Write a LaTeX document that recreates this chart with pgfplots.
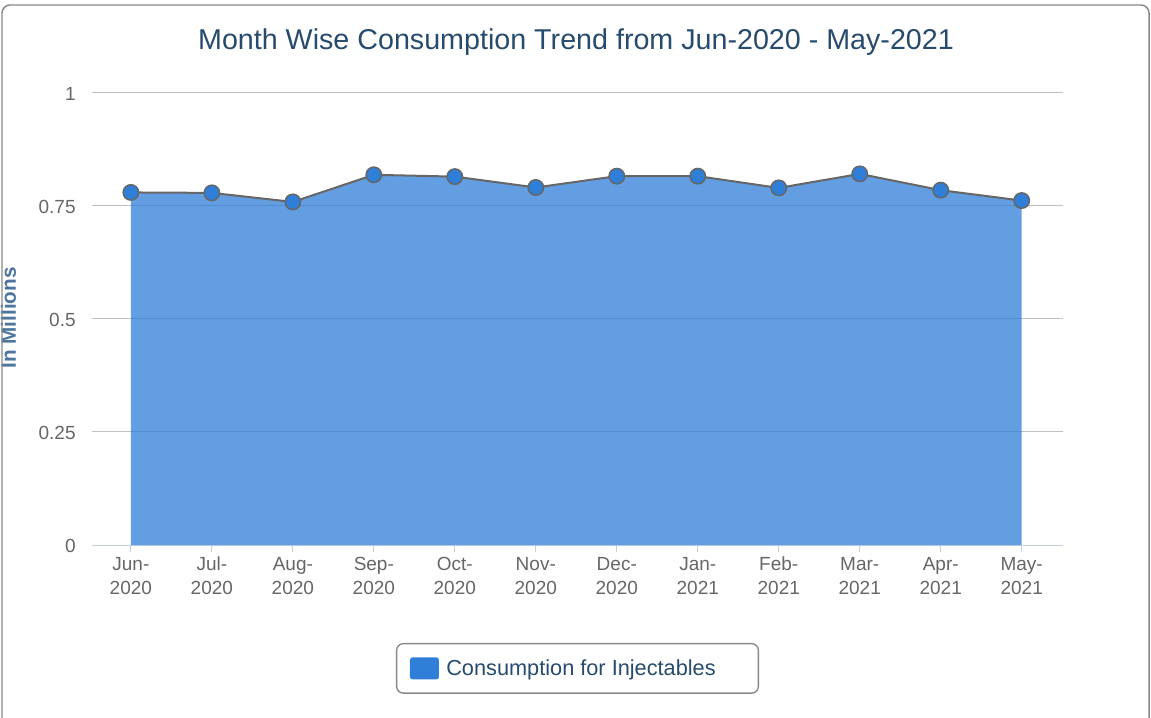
\documentclass[border=0pt]{standalone}
\usepackage{fontspec}
\setmainfont{Liberation Sans}
\usepackage{pgfplots}
\pgfplotsset{compat=1.18}
\usepackage{pgfplotstable}
\definecolor{series}{HTML}{2F7ED8}
\definecolor{titlec}{HTML}{274B6D}
\definecolor{ylabc}{HTML}{4D759E}
\definecolor{tickc}{HTML}{666666}
\definecolor{gridc}{HTML}{C0C0C0}
\definecolor{axisc}{HTML}{C0D0E0}
\definecolor{framec}{HTML}{888888}
\pgfplotstableread{
x y
0 0.780
1 0.779
2 0.759
3 0.819
4 0.815
5 0.791
6 0.816
7 0.816
8 0.790
9 0.821
10 0.785
11 0.762
}\datatable
\begin{document}
\begin{tikzpicture}
\begin{axis}[
  at={(69pt,129pt)}, anchor=south west,
  scale only axis, width=728.25pt, height=339pt,
  xmin=-0.48, xmax=11.51, ymin=0, ymax=1,
  axis x line*=bottom, axis y line*=left,
  x axis line style={draw=axisc, line width=0.75pt, -},
  y axis line style={draw=none},
  xtick={0,...,11},
  xticklabels={{\strut Jun-\\2020},{\strut Jul-\\2020},{\strut Aug-\\2020},{\strut Sep-\\2020},{\strut Oct-\\2020},{\strut Nov-\\2020},{\strut Dec-\\2020},{\strut Jan-\\2021},{\strut Feb-\\2021},{\strut Mar-\\2021},{\strut Apr-\\2021},{\strut May-\\2021}},
  ytick={0,0.25,0.5,0.75,1},
  yticklabels={0,0.25,0.5,0.75,1},
  ymajorgrids, grid style={gridc, line width=0.75pt},
  tick align=outside,
  major tick length=5.25pt,
  xtick style={draw=axisc, line width=0.75pt},
  ytick style={draw=none},
  xticklabel style={align=center, font=\fontsize{14.25}{18}\selectfont, text=tickc, yshift=2pt},
  yticklabel style={font=\fontsize{14.25}{17}\selectfont, text=tickc, xshift=-3.5pt, yshift=-0.5pt},
  legend style={at={(axis description cs:0.5,-0.273)}, anchor=center, draw=framec, line width=1pt, rounded corners=5pt, fill=white, font=\fontsize{16.3}{18}\selectfont, text=titlec, inner xsep=10pt, inner ysep=9.9pt},
  legend image code/.code={\fill[series, fill opacity=1, rounded corners=2pt] (0pt,-8.25pt) rectangle (21.75pt,8.25pt);},
]
\addplot[fill=series, fill opacity=0.75, draw=none] table[x=x,y=y]{\datatable} \closedcycle;
\addlegendentry{\hspace*{3.5pt}Consumption for Injectables\hspace*{20pt}}
\addplot[color=tickc, line width=1.5pt, mark=*, mark size=5.8pt, mark options={fill=series, draw=tickc, line width=1.1pt}, forget plot] table[x=x,y=y]{\datatable};
\end{axis}
\node[anchor=base, font=\fontsize{21.5}{24}\selectfont, text=titlec] at (432pt,500.25pt) {Month Wise Consumption Trend from Jun-2020 - May-2021};
\node[rotate=90, anchor=base, font=\bfseries\fontsize{15.5}{18}\selectfont, text=ylabc] at (12pt,299.25pt) {In Millions};
\draw[framec, line width=1.1pt, rounded corners=6pt] (1.5pt,-15pt) rectangle (861.75pt,534pt);
\pgfresetboundingbox
\useasboundingbox (0,0) rectangle (863.25pt,537.75pt);
\end{tikzpicture}
\end{document}
